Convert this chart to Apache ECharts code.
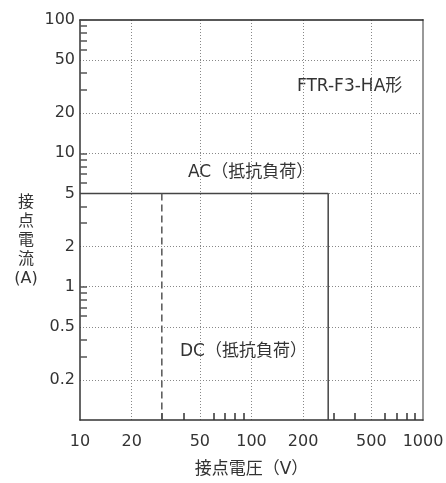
<!DOCTYPE html>
<html lang="ja">
<head>
    <meta charset="UTF-8"/>
    <title>FTR-F3-HA</title>
    <script src="https://cdn.jsdelivr.net/npm/echarts@6/dist/echarts.min.js"></script>
    <style>
        body { margin: 0; background: #fff; }
        #main { width: 446px; height: 483px; }
    </style>
</head>
<body>
<div id="main"></div>
<script type="text/javascript">
    // 軸の目盛り
    var xLabels = [10, 20, 50, 100, 200, 500, 1000];
    var xGrid = [20, 50, 100, 200, 500];
    var xMinor = [30, 40, 60, 70, 80, 90, 300, 400, 600, 700, 800, 900];
    var yLabels = [0.2, 0.5, 1, 2, 5, 10, 20, 50, 100];
    var yGrid = [0.2, 0.5, 1, 2, 5, 10, 20, 50];
    var yMinor = [0.3, 0.4, 0.6, 0.7, 0.8, 0.9, 1, 3, 4, 6, 7, 8, 9, 10, 30, 40, 60, 70, 80, 90, 100];

    // 開閉容量 (電圧V, 電流A)
    var acVoltage = [10, 280, 280];
    var acCurrent = [5, 5, 0.1];
    var dcVoltage = [30, 30];
    var dcCurrent = [5, 0.1];

    function pairs(xs, ys) {
        var out = [];
        for (var i = 0; i < xs.length; i++) out.push([xs[i], ys[i]]);
        return out;
    }

    var font = '"DejaVu Sans", "Noto Sans CJK JP", sans-serif';
    var myChart = echarts.init(document.getElementById('main'));

    var option = {
        animation: false,
        grid: { left: 80, top: 20, right: 23, bottom: 63, outerBoundsMode: 'none', containLabel: false },
        textStyle: { fontFamily: font },
        xAxis: [
            {
                type: 'log', logBase: 10, min: 10, max: 1000, position: 'bottom',
                name: '接点電圧（V）', nameLocation: 'middle', nameGap: 41,
                nameTextStyle: { fontSize: 17, color: '#333', fontFamily: font },
                axisLine: { lineStyle: { color: '#333', width: 1.5 } },
                axisTick: { show: false, customValues: xGrid },
                axisLabel: { customValues: xLabels, fontSize: 16, color: '#333', margin: 14,
                    fontFamily: font, formatter: function (v) { return String(v); } },
                splitLine: { show: true, lineStyle: { color: '#888', type: [1, 2], width: 1 } }
            },
            {
                type: 'log', logBase: 10, min: 10, max: 1000, position: 'bottom',
                axisLine: { show: false },
                axisTick: { show: true, inside: true, length: 7, customValues: xMinor,
                    lineStyle: { color: '#333', width: 1.5 } },
                axisLabel: { show: false },
                splitLine: { show: false }
            },
            {
                type: 'log', logBase: 10, min: 10, max: 1000, position: 'top',
                axisLine: { lineStyle: { color: '#222', width: 1.5 } },
                axisTick: { show: false },
                axisLabel: { show: false },
                splitLine: { show: false }
            }
        ],
        yAxis: [
            {
                type: 'log', logBase: 10, min: 0.1, max: 100, position: 'left',
                axisLine: { lineStyle: { color: '#333', width: 1.5 } },
                axisTick: { show: false, customValues: yGrid },
                axisLabel: { customValues: yLabels, fontSize: 16, color: '#333', margin: 5,
                    fontFamily: font, formatter: function (v) { return String(v); } },
                splitLine: { show: true, lineStyle: { color: '#888', type: [1, 2], width: 1 } }
            },
            {
                type: 'log', logBase: 10, min: 0.1, max: 100, position: 'left',
                axisLine: { show: false },
                axisTick: { show: true, inside: true, length: 7, customValues: yMinor,
                    lineStyle: { color: '#555', width: 1.5 } },
                axisLabel: { show: false },
                splitLine: { show: false }
            },
            {
                type: 'log', logBase: 10, min: 0.1, max: 100, position: 'right',
                axisLine: { lineStyle: { color: '#999', width: 2 } },
                axisTick: { show: false },
                axisLabel: { show: false },
                splitLine: { show: false }
            }
        ],
        graphic: [
            { type: 'text', x: 26, y: 193,
              style: { text: '接\n点\n電\n流\n(A)', font: '16px ' + font, fill: '#333',
                       textAlign: 'center', textVerticalAlign: 'top', lineHeight: 19 } },
            { type: 'text', x: 188, y: 173,
              style: { text: 'AC（抵抗負荷）', font: '17px ' + font, fill: '#333',
                       textVerticalAlign: 'middle' } },
            { type: 'text', x: 180, y: 352,
              style: { text: 'DC（抵抗負荷）', font: '17px ' + font, fill: '#333',
                       textVerticalAlign: 'middle' } },
            { type: 'text', x: 297, y: 87,
              style: { text: 'FTR-F3-HA形', font: '17px ' + font, fill: '#333',
                       textVerticalAlign: 'middle' } }
        ],
        series: [
            {
                name: 'AC', type: 'line', xAxisIndex: 0, yAxisIndex: 0,
                symbol: 'none', data: pairs(acVoltage, acCurrent),
                lineStyle: { color: '#444', width: 1.5 }, z: 3
            },
            {
                name: 'DC', type: 'line', xAxisIndex: 0, yAxisIndex: 0,
                symbol: 'none', data: pairs(dcVoltage, dcCurrent),
                lineStyle: { color: '#555', width: 1.5, type: [7, 4] }, z: 3
            }
        ]
    };

    myChart.setOption(option);
</script>
</body>
</html>
